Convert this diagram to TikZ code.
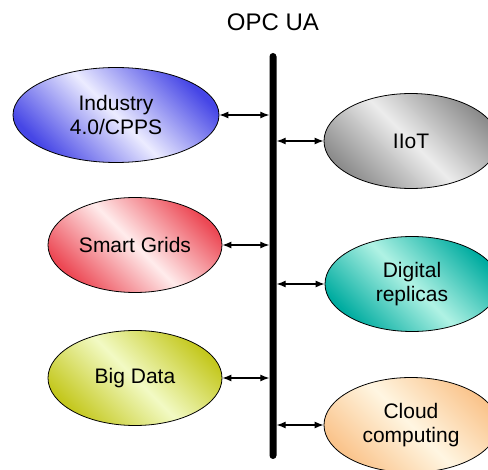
\documentclass[tikz,border=0pt]{standalone}
\usepackage{fontspec}
\setmainfont{Liberation Sans}
\usetikzlibrary{shapes.geometric,arrows.meta}
\definecolor{bluedark}{RGB}{70,70,230}
\definecolor{bluelight}{RGB}{236,236,255}
\definecolor{reddark}{RGB}{236,72,84}
\definecolor{redlight}{RGB}{255,236,236}
\definecolor{yellowdark}{RGB}{196,200,30}
\definecolor{yellowlight}{RGB}{242,250,196}
\definecolor{graydark}{RGB}{140,140,140}
\definecolor{graylight}{RGB}{236,236,236}
\definecolor{tealdark}{RGB}{0,172,160}
\definecolor{teallight}{RGB}{176,242,228}
\definecolor{peachdark}{RGB}{250,196,140}
\definecolor{peachlight}{RGB}{255,246,226}
\tikzset{
  bubble/.style={ellipse, draw, line width=0.8pt, inner sep=0pt, align=center,
    minimum width=174pt, minimum height=95pt,
    font=\fontsize{21}{24}\selectfont},
  shade/.style n args={2}{left color=#1, right color=#1, middle color=#2, shading angle=135},
  link/.style={<->, line width=1.1pt}
}
\begin{document}
\begin{tikzpicture}[x=1pt, y=-1pt, >={Latex[length=9pt,width=7pt]}]
\useasboundingbox (0,0) rectangle (488,470);

\node (opcua) at (273,22) {\fontsize{24}{28}\selectfont OPC UA};
\node (bus) [fill, inner sep=0pt, minimum width=7pt, minimum height=406pt, rounded corners=3.5pt] at (273,256) {};

\node (industry) [bubble, shade={bluedark}{bluelight}, minimum width=206pt] at (116,115) {Industry\\4.0/CPPS};
\node (grids) [bubble, shade={reddark}{redlight}] at (135,245) {Smart Grids};
\node (bigdata) [bubble, shade={yellowdark}{yellowlight}] at (135,378) {Big Data};
\node (iiot) [bubble, shade={graydark}{graylight}] at (411,141) {IIoT};
\node (replicas) [bubble, shade={tealdark}{teallight}] at (412,284) {Digital\\replicas};
\node (cloud) [bubble, shade={peachdark}{peachlight}] at (411,425) {Cloud\\computing};

\draw[link] (industry.east) -- (industry.east -| bus.west);
\draw[link] (grids.east) -- (grids.east -| bus.west);
\draw[link] (bigdata.east) -- (bigdata.east -| bus.west);
\draw[link] (iiot.west) -- (iiot.west -| bus.east);
\draw[link] (replicas.west) -- (replicas.west -| bus.east);
\draw[link] (cloud.west) -- (cloud.west -| bus.east);
\end{tikzpicture}
\end{document}
